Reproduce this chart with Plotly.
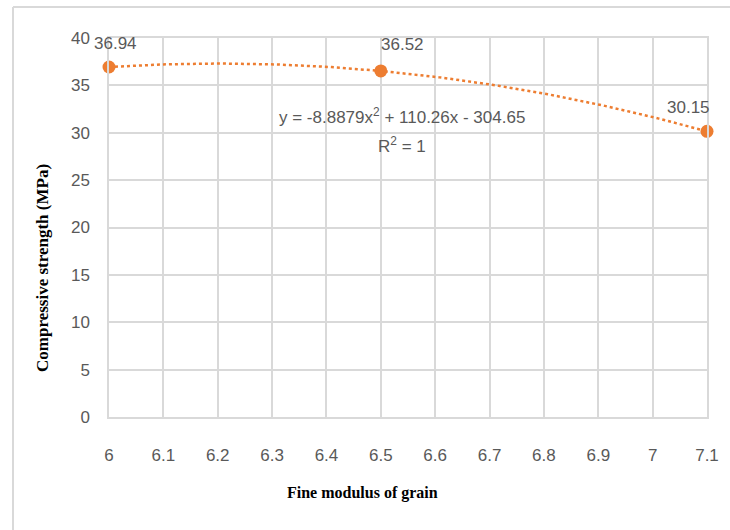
import numpy as np
import plotly.graph_objects as go

# Data
fineness = [6.0, 6.5, 7.1]
strength = [36.94, 36.52, 30.15]
label_text = ["36.94", "36.52", "30.15"]
x_ticks = [6, 6.1, 6.2, 6.3, 6.4, 6.5, 6.6, 6.7, 6.8, 6.9, 7, 7.1]
x_tick_text = ["6", "6.1", "6.2", "6.3", "6.4", "6.5", "6.6", "6.7", "6.8", "6.9", "7", "7.1"]
y_ticks = [0, 5, 10, 15, 20, 25, 30, 35, 40]
equation_text = "y = -8.8879x<sup>2</sup> + 110.26x - 304.65"
r2_text = "R<sup>2</sup> = 1"

ORANGE = "#ED7D31"
GRID = "#d9d9d9"
TXT = "#595959"
TICKFONT = "Liberation Sans Narrow, Arial Narrow, Liberation Sans, sans-serif"

# polynomial trendline fitted to the data
coef = np.polyfit(fineness, strength, 2)
xs = np.linspace(min(fineness), max(fineness), 200)
ys = np.polyval(coef, xs)

fig = go.Figure()
fig.add_trace(go.Scatter(x=xs, y=ys, mode="lines",
                         line=dict(color=ORANGE, width=2.5, dash="dot"),
                         hoverinfo="skip", showlegend=False, cliponaxis=False))
fig.add_trace(go.Scatter(x=fineness, y=strength, mode="markers",
                         marker=dict(color=ORANGE, size=13),
                         showlegend=False, cliponaxis=False))

# data labels
shifts = [(6, 23), (22, 26), (-19, 24)]
for xv, yv, t, (dx, dy) in zip(fineness, strength, label_text, shifts):
    fig.add_annotation(x=xv, y=yv, text=t, showarrow=False,
                       xshift=dx, yshift=dy,
                       font=dict(family=TICKFONT, size=17, color=TXT))

fig.add_annotation(x=6.539, y=31.8, text=equation_text, showarrow=False,
                   xanchor="center", yanchor="middle",
                   font=dict(family=TICKFONT, size=17, color=TXT))
fig.add_annotation(x=6.539, y=28.7, text=r2_text, showarrow=False,
                   xanchor="center", yanchor="middle",
                   font=dict(family=TICKFONT, size=17, color=TXT))

# axis titles
fig.add_annotation(xref="paper", yref="paper", x=(362 - 109) / 598, y=(417 - 493) / 379,
                   text="<b>Fine modulus of grain</b>", showarrow=False,
                   xanchor="center", yanchor="middle",
                   font=dict(family="Liberation Serif, Times New Roman, serif", size=16, color="#000"))
fig.add_annotation(xref="paper", yref="paper", x=(42 - 109) / 598, y=(417 - 268) / 379,
                   text="<b>Compressive strength (MPa)</b>", showarrow=False,
                   textangle=-90, xanchor="center", yanchor="middle",
                   font=dict(family="Liberation Serif, Times New Roman, serif", size=17, color="#000"))

# outer chart frame (left and top edges visible)
fig.add_shape(type="line", xref="paper", yref="paper",
              x0=(13 - 109) / 598, x1=(13 - 109) / 598, y0=(417 - 540) / 379, y1=(417 - 7) / 379,
              line=dict(color=GRID, width=2))
fig.add_shape(type="line", xref="paper", yref="paper",
              x0=(13 - 109) / 598, x1=(740 - 109) / 598, y0=(417 - 7) / 379, y1=(417 - 7) / 379,
              line=dict(color=GRID, width=2))

fig.update_xaxes(range=[6, 7.1], tickvals=x_ticks, ticktext=x_tick_text,
                 showgrid=True, gridcolor=GRID, gridwidth=1.5,
                 showline=True, linecolor=GRID, linewidth=1.5, mirror=True,
                 zeroline=False, ticks="", ticklabelstandoff=22,
                 tickfont=dict(family=TICKFONT, size=17, color=TXT))
fig.update_yaxes(range=[0, 40], tickvals=y_ticks,
                 showgrid=True, gridcolor=GRID, gridwidth=1.5,
                 showline=True, linecolor=GRID, linewidth=1.5, mirror=True,
                 zeroline=False, ticks="", ticklabelstandoff=14,
                 tickfont=dict(family=TICKFONT, size=17, color=TXT))

fig.update_layout(width=730, height=530,
                  margin=dict(l=109, r=23, t=38, b=113),
                  paper_bgcolor="white", plot_bgcolor="white",
                  showlegend=False)

fig.write_html("out.html")
